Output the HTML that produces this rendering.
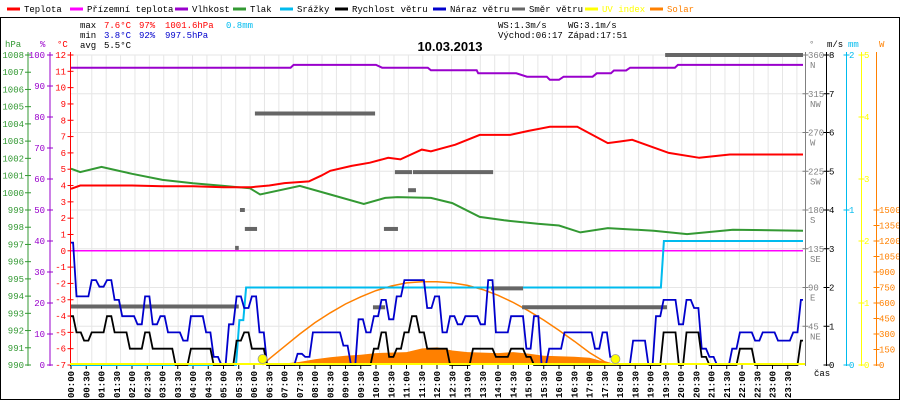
<!DOCTYPE html>
<html><head><meta charset="utf-8"><style>
html,body{margin:0;padding:0;background:#fff}
svg{display:block}
text{font-family:"Liberation Mono",monospace;font-size:9px}
</style></head><body>
<svg id="chart" width="900" height="400" xmlns="http://www.w3.org/2000/svg">
<rect width="900" height="400" fill="#fff"/>
<g id="grid"></g>
<g id="axes"></g>
<g id="series"></g>
<g id="legend"></g>
<g id="frame">
<line x1="0" y1="17.5" x2="900" y2="17.5" stroke="#000"/>
<line x1="0.5" y1="17" x2="0.5" y2="400" stroke="#000"/>
<line x1="899.5" y1="17" x2="899.5" y2="400" stroke="#000"/>
<line x1="0" y1="399.5" x2="900" y2="399.5" stroke="#000"/>
</g>
<g>
<text x="80" y="28" fill="#000">max</text><text x="104" y="28" fill="#f00">7.6°C</text><text x="139" y="28" fill="#f00">97%</text><text x="165" y="28" fill="#f00">1001.6hPa</text><text x="226" y="28" fill="#00bbee">0.8mm</text>
<text x="80" y="38" fill="#000">min</text><text x="104" y="38" fill="#00c">3.8°C</text><text x="139" y="38" fill="#00c">92%</text><text x="165" y="38" fill="#00c">997.5hPa</text>
<text x="80" y="48" fill="#000">avg</text><text x="104" y="48" fill="#000">5.5°C</text>
<text x="498" y="28" fill="#000">WS:1.3m/s</text><text x="568" y="28" fill="#000">WG:3.1m/s</text>
<text x="498" y="38" fill="#000">Východ:06:17</text><text x="568" y="38" fill="#000">Západ:17:51</text>
</g>
<text x="450" y="51" text-anchor="middle" style="font-family:'Liberation Sans',sans-serif;font-size:13px;font-weight:bold">10.03.2013</text>
</svg>
<script>
// ---- data ----
const tempT=[0,0.3,1,2,3,4,5,5.9,6.5,7,7.8,8.2,8.5,9.2,9.8,10.4,10.8,11.5,11.8,12.6,13.4,14.4,15,15.7,16.6,17.6,18,18.4,19.6,20.6,21.6,24];
const tempV=[3.8,4.0,4.0,4.0,3.95,3.95,3.9,3.9,4.0,4.15,4.25,4.6,4.9,5.2,5.4,5.7,5.6,6.2,6.1,6.5,7.1,7.1,7.35,7.6,7.6,6.6,6.7,6.8,6.0,5.7,5.9,5.9];
const presT=[0,0.3,1,1.5,2,3,4,5,5.87,6.2,7.5,8.5,9.6,10.3,10.7,11.8,12.5,13.4,14.2,15.3,16,16.7,17.6,19.1,20.2,21.7,24];
const presV=[1001.4,1001.2,1001.5,1001.3,1001.1,1000.75,1000.55,1000.4,1000.26,999.9,1000.4,999.9,999.35,999.7,999.75,999.7,999.4,998.6,998.4,998.2,998.1,997.7,997.95,997.8,997.6,997.85,997.8];
const humT=[0,7.2,7.3,10,10.2,11.7,11.8,13.3,13.35,14.6,14.95,15.6,15.7,16,16.15,17.1,17.24,17.7,17.8,18.2,18.33,19.8,19.9,24];
const humV=[95.9,95.9,96.8,96.8,95.9,95.9,95.05,95.05,94.1,94.1,93,93,92,92,93,93,94.1,94.1,95,95,95.9,95.9,96.8,96.8];
const appT=[0,24];
const appV=[0,0];
const rainT=[0,5.41,5.52,5.65,5.74,19.34,19.44,24];
const rainV=[0,0,0.29,0.29,0.5,0.5,0.8,0.8];
const windV=[1.26,0.84,0.63,0.84,0.84,1.26,0.84,0.84,0.42,0.42,0.84,0.42,0.42,0.42,0,0,0.42,0.42,0.42,0,0,0,0.63,0.84,0.42,0.42,
0,0,0,0,0,0,0,0,0,0,0,0,0,0,
0.42,0.84,0.21,0.42,0.84,1.26,0.84,0.42,0.42,0.42,0,0,0,0.42,0.42,0.42,0.21,0.21,0.42,0.42,0.21,
0,0,0,0,0,0,0,0,0,0,0,0,0,0,0,0,0,
0.84,0.84,0,0.84,0.84,0.21,0,0,0,0,0.42,0.42,0,0,0,0,0,0,0.63];
const gustV=[3.16,1.77,1.77,2.19,2.02,2.19,1.68,1.26,1.26,1.05,1.77,1.05,1.26,0.84,0.84,0.63,1.26,1.26,0.84,0.21,0,1.05,1.77,1.47,1.77,0.84,
0,0,0,0,0.29,0.21,0.84,0.84,0.84,0.84,0.5,0,1.18,0.84,1.26,1.68,1.18,1.77,2.19,2.19,2.19,
1.47,1.77,0.84,1.26,1.05,1.26,1.26,1.05,2.19,0.84,0.84,1.26,1.26,0.42,1.26,0,0.42,0.42,0.84,0.84,0.84,0.84,0.42,0.84,0.21,0,0,0.63,0.63,0,1.26,1.68,1.68,1.05,1.68,1.47,0.42,0.21,0,0,0.42,0.84,0.84,0.63,0.84,0.84,0.63,0.63,0.84,1.68];
const dirFrom=[0,5.38,5.54,5.7,6.03,9.9,10.26,10.62,11.05,11.21,13.77,14.79,19.48];
const dirTo=[5.5,5.5,5.7,6.1,9.97,10.3,10.72,11.18,11.31,13.84,14.82,19.54,24];
const dirDeg=[68,136,180,158,292,67,158,224,203,224,89,67,360];
const solarT=[6.4,6.5,7,7.5,8,8.5,9,9.5,10,10.5,11,11.5,12,12.5,13,13.5,14,14.5,15,15.5,16,16.5,17,17.5,17.75];
const solarV=[0,5,15,30,55,75,90,100,115,120,125,160,170,140,125,120,115,125,110,90,85,80,70,30,0];
const solTheoT=[6.28,6.5,7,7.5,8,8.5,9,9.5,10,10.5,11,11.5,12,12.5,13,13.5,14,14.5,15,15.5,16,16.5,17,17.5,17.85];
const solTheoV=[0,60,180,300,410,505,590,660,720,765,795,805,805,795,770,730,675,605,525,435,335,230,120,30,0];
const sunEvents=[6.28,17.85];
const hpaTicks=[990,991,992,993,994,995,996,997,998,999,1000,1001,1002,1003,1004,1005,1006,1007,1008];
const pctTicks=[0,10,20,30,40,50,60,70,80,90,100];
const degTicks=[45,90,135,180,225,270,315,360];
const degNames=["NE","E","SE","S","SW","W","NW","N"];
const msTicks=[0,1,2,3,4,5,6,7,8];
const mmTicks=[0,1,2];
const uvTicks=[0,1,2,3,4,5];
const wTicks=[0,150,300,450,600,750,900,1050,1200,1350,1500];

// ---- scales ----
const xT=t=>71+t*30.5;
const yC=v=>55+(12-v)*16.316;
const yP=p=>365-(p-990)*17.222;
const yH=h=>365-h*3.1;
const yV=v=>365-v*38.75;
const yD=d=>365-d*0.8611;
const yMM=m=>365-m*155;
const yUV=u=>365-u*62;
const yW=w=>365-w*0.10333;
const NS="http://www.w3.org/2000/svg";
function mk(tag,attrs,parent,txt){const e=document.createElementNS(NS,tag);for(const k in attrs)e.setAttribute(k,attrs[k]);if(txt!==undefined)e.textContent=txt;parent.appendChild(e);return e;}
const G=document.getElementById('grid'),A=document.getElementById('axes'),S=document.getElementById('series'),L=document.getElementById('legend');

// grid
for(let x=77.4;x<800;x+=14.39){const l=mk('line',{x1:x,y1:55,x2:x,y2:365,stroke:'#e6e6e6'},G);}
for(let v=1;v<=8;v++){const l=mk('line',{x1:70,y1:yV(v),x2:805,y2:yV(v),stroke:'#e6e6e6'},G);}

function axis(x,color,ticks,yf,fmt,labelX,name,header,hx){
  const g=mk('g',{},A);
  mk('line',{x1:x,y1:52,x2:x,y2:366,stroke:color},g);
  ticks.forEach(t=>{const y=yf(t);mk('line',{x1:x-3,y1:y,x2:x+3,y2:y,stroke:color},g);
    const tx=mk('text',{x:labelX,y:y+3,fill:color,'text-anchor':labelX<x?'end':'start'},g,fmt(t));
    });
  if(header){const h=mk('text',{x:hx,y:47,fill:color},g,header);}
  return g;
}
axis(28,'#339933',hpaTicks,yP,t=>t,24,'hpa-axis','hPa',5);
axis(50,'#9900cc',pctTicks,yH,t=>t,45,'humidity-axis','%',40);
const cT=[];for(let c=-7;c<=12;c++)cT.push(c);
axis(70.5,'#ff0000',cT,yC,t=>t,66,'temp-axis','°C',57);
const dg=axis(805.5,'#808080',degTicks,yD,t=>t,808,'direction-axis','°',809);
degTicks.forEach((d,i)=>{mk('text',{x:810,y:yD(d)+13,fill:'#808080'},dg,degNames[i]);});
axis(826.5,'#000',msTicks,yV,t=>t,829,'wind-axis','m/s',827);
axis(846.5,'#00bbee',mmTicks,yMM,t=>t,849,'rain-axis','mm',848);
axis(861.5,'#ffff00',uvTicks,yUV,t=>t,864,'uv-axis','',0);
axis(876.5,'#ff8000',wTicks,yW,t=>t,879,'solar-axis','W',879);

const xg=mk('g',{},A);
for(let i=0;i<48;i++){const x=xT(i*0.5);mk('line',{x1:x,y1:365,x2:x,y2:369,stroke:'#000'},xg);
  const h=String(Math.floor(i/2)).padStart(2,'0')+':'+(i%2?'30':'00');
  const t=mk('text',{x:0,y:0,transform:`translate(${x+3},398) rotate(-90)`,fill:'#000','font-weight':'bold'},xg,h);
  }
mk('text',{x:814,y:376,fill:'#000'},xg,'čas');

function line(ts,vs,yf,color,w,name){const p=ts.map((t,i)=>xT(t).toFixed(1)+','+yf(vs[i]).toFixed(1)).join(' ');
  const e=mk('polyline',{points:p,fill:'none',stroke:color,'stroke-width':w},S);return e;}
function stepLine(vs,yf,color,w,name){const pts=[];vs.forEach((v,i)=>{const t=i*0.25;
  const a=Math.max(0,t-0.07),b=Math.min(24,t+0.07);pts.push(xT(a).toFixed(1)+','+yf(v).toFixed(1));pts.push(xT(b).toFixed(1)+','+yf(v).toFixed(1));});
  const e=mk('polyline',{points:pts.join(' '),fill:'none',stroke:color,'stroke-width':w},S);return e;}
{const p=solarT.map((t,i)=>xT(t).toFixed(1)+','+yW(solarV[i]).toFixed(1));
 const e=mk('polygon',{points:xT(solarT[0])+','+365+' '+p.join(' ')+' '+xT(solarT[solarT.length-1])+',365',fill:'#ff8000'},S);
 }
line(solTheoT,solTheoV,yW,'#ff8000',1.5,'solar-theoretical-line');
line(appT,appV,yC,'#ff00ff',1.5,'apparent-temp-line');
line(humT,humV,yH,'#9900cc',2,'humidity-line');
line(presT,presV,yP,'#339933',2,'pressure-line');
line(tempT,tempV,yC,'#ff0000',2,'temperature-line');
line(rainT,rainV,yMM,'#00bbee',2,'rain-line');
dirFrom.forEach((f,i)=>{const e=mk('line',{x1:xT(f),y1:yD(dirDeg[i]),x2:xT(dirTo[i]),y2:yD(dirDeg[i]),stroke:'#666','stroke-width':4},S);
  });
stepLine(gustV,yV,'#0000cc',1.8,'wind-gust-line');
stepLine(windV,yV,'#000',1.8,'wind-speed-line');
{const e=mk('line',{x1:70,y1:364,x2:805,y2:364,stroke:'#ffff00','stroke-width':2},S);}
sunEvents.forEach(t=>{const c=mk('circle',{cx:xT(t),cy:359,r:4.5,fill:'#ffff00',stroke:'#999','stroke-width':0.8},S);
  });

const legendItems=[[7,'Teplota','#ff0000'],[70,'Přízemní teplota','#ff00ff'],[175,'Vlhkost','#9900cc'],[233,'Tlak','#339933'],[280,'Srážky','#00bbee'],[335,'Rychlost větru','#000'],[433,'Náraz větru','#0000cc'],[512,'Směr větru','#666'],[585,'UV index','#ffff00'],[650,'Solar','#ff8000']];
legendItems.forEach(([x,label,c])=>{const g=mk('g',{},L);
  
  
  mk('line',{x1:x,y1:9,x2:x+13,y2:9,stroke:c,'stroke-width':3},g);
  const tc=(c==='#ffff00'||c==='#ff8000')?c:'#000';
  mk('text',{x:x+17,y:12,fill:tc},g,label);});
</script>
</body></html>
